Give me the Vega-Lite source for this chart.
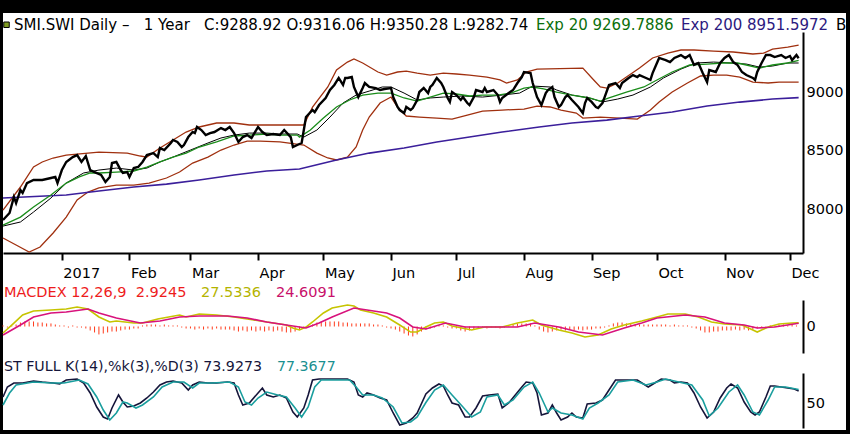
{
  "$schema": "https://vega.github.io/schema/vega-lite/v6.json",
  "width": 843,
  "height": 417,
  "autosize": {"type": "none"},
  "padding": {"left": 3, "top": 13, "right": 4, "bottom": 4},
  "background": "black",
  "config": {
    "font": "DejaVu Sans",
    "view": {"fill": "white", "stroke": null},
    "axis": {"labelFont": "DejaVu Sans", "labelFontSize": 14.5, "labelColor": "black", "domainColor": "black", "domainWidth": 2, "grid": false},
    "legend": {"labelFont": "DejaVu Sans", "labelLimit": 900, "symbolSize": 0, "symbolOpacity": 0, "symbolStrokeWidth": 0, "labelOffset": 0, "padding": 0}
  },
  "datasets": {
    "levels": [{"v": 9322}, {"v": 9188}, {"v": 9088}, {"v": 8795}],
    "close": [
      {"d":"2016-12-05","v":7906},{"d":"2016-12-08","v":7966},{"d":"2016-12-10","v":8103},{"d":"2016-12-11","v":8051},{"d":"2016-12-13","v":8162},{"d":"2016-12-14","v":8137},{"d":"2016-12-16","v":8222},{"d":"2016-12-19","v":8248},{"d":"2016-12-23","v":8248},{"d":"2016-12-27","v":8265},{"d":"2016-12-29","v":8274},{"d":"2016-12-30","v":8222},
      {"d":"2017-01-01","v":8333},{"d":"2017-01-03","v":8402},{"d":"2017-01-06","v":8444},{"d":"2017-01-08","v":8461},{"d":"2017-01-10","v":8402},{"d":"2017-01-12","v":8453},{"d":"2017-01-14","v":8333},{"d":"2017-01-16","v":8316},{"d":"2017-01-19","v":8291},{"d":"2017-01-21","v":8231},{"d":"2017-01-23","v":8274},{"d":"2017-01-24","v":8393},{"d":"2017-01-26","v":8402},{"d":"2017-01-28","v":8333},{"d":"2017-01-29","v":8308},{"d":"2017-01-31","v":8316},
      {"d":"2017-02-01","v":8274},{"d":"2017-02-03","v":8350},{"d":"2017-02-05","v":8359},{"d":"2017-02-07","v":8402},{"d":"2017-02-09","v":8461},{"d":"2017-02-12","v":8478},{"d":"2017-02-14","v":8444},{"d":"2017-02-15","v":8521},{"d":"2017-02-17","v":8504},{"d":"2017-02-20","v":8564},{"d":"2017-02-21","v":8590},{"d":"2017-02-23","v":8573},{"d":"2017-02-25","v":8530},{"d":"2017-02-26","v":8547},{"d":"2017-02-28","v":8615},
      {"d":"2017-03-02","v":8658},{"d":"2017-03-03","v":8649},{"d":"2017-03-04","v":8701},{"d":"2017-03-06","v":8675},{"d":"2017-03-08","v":8632},{"d":"2017-03-10","v":8649},{"d":"2017-03-12","v":8658},{"d":"2017-03-15","v":8692},{"d":"2017-03-17","v":8675},{"d":"2017-03-19","v":8701},{"d":"2017-03-21","v":8649},{"d":"2017-03-23","v":8573},{"d":"2017-03-25","v":8615},{"d":"2017-03-27","v":8632},{"d":"2017-03-29","v":8607},
      {"d":"2017-04-01","v":8701},{"d":"2017-04-03","v":8658},{"d":"2017-04-05","v":8632},{"d":"2017-04-08","v":8641},{"d":"2017-04-11","v":8632},{"d":"2017-04-13","v":8675},{"d":"2017-04-16","v":8615},{"d":"2017-04-17","v":8530},{"d":"2017-04-19","v":8547},{"d":"2017-04-21","v":8564},{"d":"2017-04-22","v":8675},{"d":"2017-04-23","v":8786},{"d":"2017-04-26","v":8846},{"d":"2017-04-27","v":8829},{"d":"2017-04-29","v":8889},
      {"d":"2017-05-02","v":8949},{"d":"2017-05-04","v":9017},{"d":"2017-05-06","v":9060},{"d":"2017-05-08","v":9120},{"d":"2017-05-10","v":9060},{"d":"2017-05-11","v":9120},{"d":"2017-05-12","v":9120},{"d":"2017-05-14","v":9128},{"d":"2017-05-15","v":9043},{"d":"2017-05-17","v":8957},{"d":"2017-05-19","v":9034},{"d":"2017-05-20","v":9077},{"d":"2017-05-22","v":9043},{"d":"2017-05-25","v":9034},{"d":"2017-05-27","v":9017},{"d":"2017-05-29","v":9026},
      {"d":"2017-06-01","v":9034},{"d":"2017-06-02","v":8957},{"d":"2017-06-04","v":8872},{"d":"2017-06-05","v":8846},{"d":"2017-06-07","v":8820},{"d":"2017-06-08","v":8872},{"d":"2017-06-10","v":8846},{"d":"2017-06-11","v":8863},{"d":"2017-06-13","v":8932},{"d":"2017-06-14","v":9000},{"d":"2017-06-16","v":9034},{"d":"2017-06-18","v":8991},{"d":"2017-06-19","v":9043},{"d":"2017-06-20","v":9060},{"d":"2017-06-22","v":9120},{"d":"2017-06-24","v":9077},{"d":"2017-06-25","v":9043},{"d":"2017-06-27","v":8949},{"d":"2017-06-28","v":8915},{"d":"2017-06-29","v":9000},
      {"d":"2017-07-01","v":8974},{"d":"2017-07-03","v":8932},{"d":"2017-07-04","v":8957},{"d":"2017-07-06","v":8906},{"d":"2017-07-07","v":8889},{"d":"2017-07-09","v":8957},{"d":"2017-07-10","v":9017},{"d":"2017-07-13","v":9000},{"d":"2017-07-14","v":9034},{"d":"2017-07-15","v":9000},{"d":"2017-07-18","v":9017},{"d":"2017-07-20","v":8974},{"d":"2017-07-21","v":8915},{"d":"2017-07-22","v":8949},{"d":"2017-07-25","v":8991},{"d":"2017-07-27","v":9017},{"d":"2017-07-29","v":9077},{"d":"2017-07-31","v":9128},
      {"d":"2017-08-01","v":9171},{"d":"2017-08-04","v":9162},{"d":"2017-08-05","v":9077},{"d":"2017-08-07","v":8957},{"d":"2017-08-09","v":8889},{"d":"2017-08-11","v":8991},{"d":"2017-08-12","v":9017},{"d":"2017-08-14","v":9043},{"d":"2017-08-15","v":8957},{"d":"2017-08-17","v":8872},{"d":"2017-08-18","v":8889},{"d":"2017-08-20","v":8957},{"d":"2017-08-21","v":8974},{"d":"2017-08-23","v":8932},{"d":"2017-08-26","v":8872},{"d":"2017-08-28","v":8820},{"d":"2017-08-29","v":8906},{"d":"2017-08-30","v":8949},
      {"d":"2017-09-01","v":8915},{"d":"2017-09-03","v":8872},{"d":"2017-09-04","v":8863},{"d":"2017-09-06","v":8906},{"d":"2017-09-07","v":8957},{"d":"2017-09-09","v":9060},{"d":"2017-09-12","v":9077},{"d":"2017-09-14","v":9034},{"d":"2017-09-15","v":9077},{"d":"2017-09-18","v":9120},{"d":"2017-09-20","v":9145},{"d":"2017-09-22","v":9128},{"d":"2017-09-23","v":9145},{"d":"2017-09-26","v":9120},{"d":"2017-09-28","v":9103},{"d":"2017-09-29","v":9162},
      {"d":"2017-10-01","v":9248},{"d":"2017-10-02","v":9291},{"d":"2017-10-05","v":9273},{"d":"2017-10-07","v":9256},{"d":"2017-10-09","v":9291},{"d":"2017-10-12","v":9316},{"d":"2017-10-14","v":9291},{"d":"2017-10-16","v":9316},{"d":"2017-10-18","v":9231},{"d":"2017-10-20","v":9248},{"d":"2017-10-22","v":9162},{"d":"2017-10-24","v":9085},{"d":"2017-10-25","v":9188},{"d":"2017-10-28","v":9171},{"d":"2017-10-30","v":9248},
      {"d":"2017-11-01","v":9291},{"d":"2017-11-03","v":9316},{"d":"2017-11-05","v":9256},{"d":"2017-11-07","v":9231},{"d":"2017-11-09","v":9171},{"d":"2017-11-11","v":9145},{"d":"2017-11-14","v":9120},{"d":"2017-11-15","v":9103},{"d":"2017-11-16","v":9171},{"d":"2017-11-18","v":9248},{"d":"2017-11-20","v":9316},{"d":"2017-11-22","v":9316},{"d":"2017-11-24","v":9299},{"d":"2017-11-27","v":9316},{"d":"2017-11-29","v":9291},
      {"d":"2017-12-01","v":9308},{"d":"2017-12-02","v":9273},{"d":"2017-12-04","v":9316},{"d":"2017-12-05","v":9289}
    ],
    "upper": [
      {"d":"2016-12-05","v":7991},{"d":"2016-12-13","v":8188},{"d":"2016-12-19","v":8359},{"d":"2016-12-23","v":8402},{"d":"2016-12-28","v":8436},{"d":"2017-01-03","v":8461},{"d":"2017-01-13","v":8478},{"d":"2017-01-18","v":8487},{"d":"2017-01-31","v":8478},{"d":"2017-02-06","v":8453},{"d":"2017-02-09","v":8444},{"d":"2017-02-15","v":8521},{"d":"2017-02-21","v":8590},{"d":"2017-02-27","v":8658},{"d":"2017-03-05","v":8701},{"d":"2017-03-13","v":8735},{"d":"2017-03-21","v":8735},{"d":"2017-03-28","v":8718},{"d":"2017-04-22","v":8718},{"d":"2017-04-26","v":8872},{"d":"2017-05-03","v":9043},{"d":"2017-05-07","v":9188},{"d":"2017-05-12","v":9256},{"d":"2017-05-15","v":9282},{"d":"2017-05-19","v":9248},{"d":"2017-05-26","v":9171},{"d":"2017-05-30","v":9145},{"d":"2017-06-04","v":9171},{"d":"2017-06-08","v":9179},{"d":"2017-06-13","v":9162},{"d":"2017-06-19","v":9145},{"d":"2017-06-25","v":9162},{"d":"2017-07-01","v":9154},{"d":"2017-07-07","v":9145},{"d":"2017-07-15","v":9128},{"d":"2017-07-21","v":9103},{"d":"2017-07-24","v":9077},{"d":"2017-07-29","v":9103},{"d":"2017-08-02","v":9171},{"d":"2017-08-07","v":9196},{"d":"2017-08-28","v":9205},{"d":"2017-09-02","v":9103},{"d":"2017-09-05","v":9043},{"d":"2017-09-08","v":9034},{"d":"2017-09-13","v":9077},{"d":"2017-09-17","v":9128},{"d":"2017-09-23","v":9205},{"d":"2017-09-29","v":9291},{"d":"2017-10-06","v":9333},{"d":"2017-10-12","v":9359},{"d":"2017-10-18","v":9359},{"d":"2017-10-27","v":9350},{"d":"2017-11-05","v":9342},{"d":"2017-11-14","v":9325},{"d":"2017-11-19","v":9333},{"d":"2017-11-23","v":9367},{"d":"2017-11-30","v":9384},{"d":"2017-12-05","v":9401}
    ],
    "lower": [
      {"d":"2016-12-05","v":7752},{"d":"2016-12-11","v":7692},{"d":"2016-12-17","v":7632},{"d":"2016-12-22","v":7675},{"d":"2016-12-28","v":7795},{"d":"2017-01-03","v":7931},{"d":"2017-01-08","v":8077},{"d":"2017-01-13","v":8145},{"d":"2017-01-18","v":8180},{"d":"2017-01-26","v":8205},{"d":"2017-02-03","v":8205},{"d":"2017-02-10","v":8222},{"d":"2017-02-18","v":8265},{"d":"2017-02-24","v":8316},{"d":"2017-03-02","v":8393},{"d":"2017-03-09","v":8444},{"d":"2017-03-15","v":8504},{"d":"2017-03-21","v":8547},{"d":"2017-03-27","v":8581},{"d":"2017-04-02","v":8581},{"d":"2017-04-11","v":8573},{"d":"2017-04-22","v":8547},{"d":"2017-04-28","v":8478},{"d":"2017-05-03","v":8436},{"d":"2017-05-07","v":8419},{"d":"2017-05-12","v":8444},{"d":"2017-05-16","v":8530},{"d":"2017-05-19","v":8675},{"d":"2017-05-22","v":8786},{"d":"2017-05-27","v":8906},{"d":"2017-06-01","v":8957},{"d":"2017-06-04","v":8872},{"d":"2017-06-08","v":8795},{"d":"2017-06-14","v":8786},{"d":"2017-06-22","v":8777},{"d":"2017-06-29","v":8769},{"d":"2017-07-06","v":8803},{"d":"2017-07-13","v":8837},{"d":"2017-07-22","v":8846},{"d":"2017-08-01","v":8854},{"d":"2017-08-07","v":8880},{"d":"2017-08-13","v":8872},{"d":"2017-08-18","v":8846},{"d":"2017-08-25","v":8820},{"d":"2017-08-28","v":8777},{"d":"2017-09-05","v":8786},{"d":"2017-09-14","v":8777},{"d":"2017-09-22","v":8769},{"d":"2017-09-28","v":8846},{"d":"2017-10-02","v":8914},{"d":"2017-10-08","v":9000},{"d":"2017-10-15","v":9077},{"d":"2017-10-21","v":9137},{"d":"2017-10-27","v":9145},{"d":"2017-11-02","v":9145},{"d":"2017-11-08","v":9128},{"d":"2017-11-14","v":9085},{"d":"2017-11-21","v":9077},{"d":"2017-11-26","v":9085},{"d":"2017-12-05","v":9085}
    ],
    "sma": [
      {"d":"2016-12-05","v":7854},{"d":"2016-12-13","v":7889},{"d":"2016-12-19","v":7974},{"d":"2016-12-27","v":8094},{"d":"2017-01-03","v":8222},{"d":"2017-01-11","v":8308},{"d":"2017-01-18","v":8333},{"d":"2017-01-26","v":8350},{"d":"2017-02-03","v":8333},{"d":"2017-02-09","v":8350},{"d":"2017-02-15","v":8402},{"d":"2017-02-21","v":8444},{"d":"2017-03-01","v":8504},{"d":"2017-03-09","v":8564},{"d":"2017-03-15","v":8607},{"d":"2017-03-21","v":8632},{"d":"2017-03-28","v":8649},{"d":"2017-04-05","v":8649},{"d":"2017-04-11","v":8641},{"d":"2017-04-19","v":8641},{"d":"2017-04-22","v":8615},{"d":"2017-04-28","v":8675},{"d":"2017-05-04","v":8786},{"d":"2017-05-10","v":8906},{"d":"2017-05-16","v":8974},{"d":"2017-05-22","v":9008},{"d":"2017-05-28","v":9043},{"d":"2017-06-01","v":9043},{"d":"2017-06-07","v":8991},{"d":"2017-06-13","v":8932},{"d":"2017-06-19","v":8949},{"d":"2017-06-25","v":8957},{"d":"2017-07-04","v":8966},{"d":"2017-07-13","v":8957},{"d":"2017-07-22","v":8974},{"d":"2017-07-30","v":8991},{"d":"2017-08-05","v":9051},{"d":"2017-08-13","v":9043},{"d":"2017-08-16","v":9017},{"d":"2017-08-23","v":8974},{"d":"2017-08-31","v":8949},{"d":"2017-09-06","v":8915},{"d":"2017-09-13","v":8940},{"d":"2017-09-20","v":8974},{"d":"2017-09-28","v":9043},{"d":"2017-10-04","v":9120},{"d":"2017-10-12","v":9196},{"d":"2017-10-19","v":9248},{"d":"2017-10-27","v":9256},{"d":"2017-11-04","v":9248},{"d":"2017-11-11","v":9239},{"d":"2017-11-17","v":9213},{"d":"2017-11-23","v":9222},{"d":"2017-11-30","v":9248},{"d":"2017-12-05","v":9248}
    ],
    "ema20": [
      {"d":"2016-12-05","v":7863},{"d":"2016-12-13","v":7931},{"d":"2016-12-19","v":8017},{"d":"2016-12-27","v":8120},{"d":"2017-01-03","v":8222},{"d":"2017-01-09","v":8274},{"d":"2017-01-14","v":8308},{"d":"2017-01-18","v":8308},{"d":"2017-01-26","v":8316},{"d":"2017-02-03","v":8325},{"d":"2017-02-09","v":8359},{"d":"2017-02-15","v":8402},{"d":"2017-02-21","v":8444},{"d":"2017-02-27","v":8478},{"d":"2017-03-05","v":8530},{"d":"2017-03-13","v":8573},{"d":"2017-03-21","v":8624},{"d":"2017-03-28","v":8632},{"d":"2017-04-05","v":8641},{"d":"2017-04-11","v":8632},{"d":"2017-04-19","v":8632},{"d":"2017-04-20","v":8615},{"d":"2017-04-25","v":8675},{"d":"2017-05-01","v":8777},{"d":"2017-05-07","v":8872},{"d":"2017-05-13","v":8932},{"d":"2017-05-19","v":8974},{"d":"2017-05-26","v":8991},{"d":"2017-06-01","v":8991},{"d":"2017-06-07","v":8949},{"d":"2017-06-13","v":8923},{"d":"2017-06-19","v":8957},{"d":"2017-06-25","v":8991},{"d":"2017-07-01","v":8983},{"d":"2017-07-07","v":8966},{"d":"2017-07-13","v":8974},{"d":"2017-07-20","v":8974},{"d":"2017-07-26","v":8991},{"d":"2017-08-01","v":9034},{"d":"2017-08-05","v":9043},{"d":"2017-08-10","v":9026},{"d":"2017-08-16","v":9000},{"d":"2017-08-23","v":8974},{"d":"2017-08-31","v":8949},{"d":"2017-09-05","v":8923},{"d":"2017-09-09","v":8949},{"d":"2017-09-17","v":9000},{"d":"2017-09-25","v":9043},{"d":"2017-10-01","v":9103},{"d":"2017-10-08","v":9171},{"d":"2017-10-16","v":9231},{"d":"2017-10-24","v":9239},{"d":"2017-10-31","v":9248},{"d":"2017-11-07","v":9248},{"d":"2017-11-11","v":9231},{"d":"2017-11-17","v":9205},{"d":"2017-11-23","v":9231},{"d":"2017-11-30","v":9248},{"d":"2017-12-05","v":9270}
    ],
    "ema200": [
      {"d":"2016-12-05","v":8094},{"d":"2017-01-03","v":8120},{"d":"2017-01-18","v":8154},{"d":"2017-02-03","v":8188},{"d":"2017-02-18","v":8213},{"d":"2017-03-05","v":8248},{"d":"2017-03-21","v":8291},{"d":"2017-04-05","v":8325},{"d":"2017-04-20","v":8342},{"d":"2017-05-07","v":8419},{"d":"2017-05-22","v":8478},{"d":"2017-06-07","v":8521},{"d":"2017-06-22","v":8573},{"d":"2017-07-07","v":8615},{"d":"2017-07-22","v":8658},{"d":"2017-08-08","v":8701},{"d":"2017-08-23","v":8735},{"d":"2017-09-08","v":8760},{"d":"2017-09-23","v":8795},{"d":"2017-10-08","v":8829},{"d":"2017-10-24","v":8880},{"d":"2017-11-08","v":8914},{"d":"2017-11-23","v":8940},{"d":"2017-12-05","v":8952}
    ],
    "macd": [
      {"d":"2016-12-05","v":-49},{"d":"2016-12-10","v":26},{"d":"2016-12-14","v":87},{"d":"2016-12-19","v":117},{"d":"2016-12-27","v":125},{"d":"2017-01-03","v":132},{"d":"2017-01-08","v":147},{"d":"2017-01-13","v":132},{"d":"2017-01-18","v":72},{"d":"2017-01-23","v":34},{"d":"2017-01-26","v":42},{"d":"2017-02-03","v":26},{"d":"2017-02-07","v":26},{"d":"2017-02-14","v":57},{"d":"2017-02-24","v":87},{"d":"2017-02-27","v":72},{"d":"2017-03-05","v":94},{"d":"2017-03-13","v":87},{"d":"2017-03-21","v":72},{"d":"2017-03-30","v":49},{"d":"2017-04-08","v":26},{"d":"2017-04-14","v":11},{"d":"2017-04-17","v":-11},{"d":"2017-04-20","v":-26},{"d":"2017-04-23","v":-4},{"d":"2017-04-26","v":34},{"d":"2017-05-01","v":102},{"d":"2017-05-05","v":140},{"d":"2017-05-12","v":162},{"d":"2017-05-15","v":155},{"d":"2017-05-18","v":125},{"d":"2017-05-24","v":102},{"d":"2017-05-30","v":72},{"d":"2017-06-05","v":11},{"d":"2017-06-10","v":-42},{"d":"2017-06-13","v":-42},{"d":"2017-06-17","v":-4},{"d":"2017-06-21","v":26},{"d":"2017-06-25","v":34},{"d":"2017-06-29","v":4},{"d":"2017-07-08","v":-26},{"d":"2017-07-14","v":-4},{"d":"2017-07-22","v":-4},{"d":"2017-07-29","v":26},{"d":"2017-08-05","v":49},{"d":"2017-08-09","v":11},{"d":"2017-08-17","v":-26},{"d":"2017-08-23","v":-49},{"d":"2017-08-29","v":-79},{"d":"2017-09-04","v":-64},{"d":"2017-09-10","v":-19},{"d":"2017-09-16","v":11},{"d":"2017-09-24","v":42},{"d":"2017-10-01","v":72},{"d":"2017-10-06","v":94},{"d":"2017-10-14","v":94},{"d":"2017-10-20","v":72},{"d":"2017-10-26","v":34},{"d":"2017-11-01","v":19},{"d":"2017-11-09","v":11},{"d":"2017-11-14","v":-26},{"d":"2017-11-16","v":-42},{"d":"2017-11-21","v":-4},{"d":"2017-11-26","v":19},{"d":"2017-12-02","v":26},{"d":"2017-12-05","v":27.5}
    ],
    "signal": [
      {"d":"2016-12-05","v":-64},{"d":"2016-12-13","v":11},{"d":"2016-12-19","v":72},{"d":"2016-12-27","v":102},{"d":"2017-01-03","v":109},{"d":"2017-01-13","v":132},{"d":"2017-01-18","v":102},{"d":"2017-01-26","v":64},{"d":"2017-02-06","v":26},{"d":"2017-02-15","v":42},{"d":"2017-02-24","v":72},{"d":"2017-03-05","v":79},{"d":"2017-03-18","v":79},{"d":"2017-03-27","v":64},{"d":"2017-04-05","v":34},{"d":"2017-04-14","v":11},{"d":"2017-04-23","v":-11},{"d":"2017-04-29","v":26},{"d":"2017-05-05","v":72},{"d":"2017-05-15","v":140},{"d":"2017-05-21","v":125},{"d":"2017-05-30","v":102},{"d":"2017-06-05","v":64},{"d":"2017-06-11","v":-4},{"d":"2017-06-17","v":-19},{"d":"2017-06-26","v":26},{"d":"2017-07-05","v":-4},{"d":"2017-07-17","v":-4},{"d":"2017-07-29","v":-4},{"d":"2017-08-06","v":26},{"d":"2017-08-17","v":-4},{"d":"2017-08-26","v":-42},{"d":"2017-09-06","v":-64},{"d":"2017-09-16","v":-11},{"d":"2017-09-24","v":26},{"d":"2017-10-01","v":64},{"d":"2017-10-14","v":87},{"d":"2017-10-23","v":72},{"d":"2017-11-01","v":26},{"d":"2017-11-10","v":11},{"d":"2017-11-16","v":-11},{"d":"2017-11-24","v":-4},{"d":"2017-12-05","v":24.6}
    ],
    "hist": [
      {"d":"2016-12-05","v":8},{"d":"2016-12-07","v":-8},{"d":"2016-12-09","v":8},{"d":"2016-12-11","v":15},{"d":"2016-12-13","v":30},{"d":"2016-12-15","v":38},{"d":"2016-12-17","v":38},{"d":"2016-12-19","v":38},{"d":"2016-12-21","v":30},{"d":"2016-12-23","v":30},{"d":"2016-12-25","v":23},{"d":"2016-12-27","v":23},{"d":"2016-12-29","v":15},{"d":"2016-12-31","v":8},
      {"d":"2017-01-02","v":8},{"d":"2017-01-04","v":-8},{"d":"2017-01-06","v":8},{"d":"2017-01-08","v":-8},{"d":"2017-01-10","v":-8},{"d":"2017-01-12","v":-15},{"d":"2017-01-14","v":-30},{"d":"2017-01-16","v":-45},{"d":"2017-01-18","v":-60},{"d":"2017-01-20","v":-53},{"d":"2017-01-22","v":-45},{"d":"2017-01-24","v":-38},{"d":"2017-01-26","v":-38},{"d":"2017-01-28","v":-30},{"d":"2017-01-30","v":-23},
      {"d":"2017-02-01","v":-23},{"d":"2017-02-03","v":-15},{"d":"2017-02-05","v":-15},{"d":"2017-02-07","v":8},{"d":"2017-02-09","v":15},{"d":"2017-02-11","v":15},{"d":"2017-02-13","v":15},{"d":"2017-02-15","v":8},{"d":"2017-02-17","v":15},{"d":"2017-02-19","v":8},{"d":"2017-02-21","v":8},{"d":"2017-02-23","v":8},{"d":"2017-02-25","v":-8},{"d":"2017-02-27","v":-15},
      {"d":"2017-03-01","v":-15},{"d":"2017-03-03","v":-23},{"d":"2017-03-05","v":-15},{"d":"2017-03-07","v":-23},{"d":"2017-03-09","v":-15},{"d":"2017-03-11","v":-23},{"d":"2017-03-13","v":-15},{"d":"2017-03-15","v":-23},{"d":"2017-03-17","v":-23},{"d":"2017-03-19","v":-23},{"d":"2017-03-21","v":-30},{"d":"2017-03-23","v":-38},{"d":"2017-03-25","v":-30},{"d":"2017-03-27","v":-38},{"d":"2017-03-29","v":-30},{"d":"2017-03-31","v":-38},
      {"d":"2017-04-02","v":-30},{"d":"2017-04-04","v":-38},{"d":"2017-04-06","v":-30},{"d":"2017-04-08","v":-38},{"d":"2017-04-10","v":-30},{"d":"2017-04-12","v":-38},{"d":"2017-04-14","v":-45},{"d":"2017-04-16","v":-45},{"d":"2017-04-18","v":-38},{"d":"2017-04-20","v":-23},{"d":"2017-04-22","v":-8},{"d":"2017-04-24","v":8},{"d":"2017-04-26","v":15},{"d":"2017-04-28","v":30},{"d":"2017-04-30","v":38},
      {"d":"2017-05-02","v":38},{"d":"2017-05-04","v":38},{"d":"2017-05-06","v":38},{"d":"2017-05-08","v":38},{"d":"2017-05-10","v":30},{"d":"2017-05-12","v":30},{"d":"2017-05-14","v":23},{"d":"2017-05-16","v":23},{"d":"2017-05-18","v":23},{"d":"2017-05-20","v":23},{"d":"2017-05-22","v":23},{"d":"2017-05-24","v":15},{"d":"2017-05-26","v":15},{"d":"2017-05-28","v":8},{"d":"2017-05-30","v":-8},
      {"d":"2017-06-01","v":-15},{"d":"2017-06-03","v":-23},{"d":"2017-06-05","v":-38},{"d":"2017-06-07","v":-53},{"d":"2017-06-09","v":-68},{"d":"2017-06-11","v":-75},{"d":"2017-06-13","v":-60},{"d":"2017-06-15","v":-38},{"d":"2017-06-17","v":-23},{"d":"2017-06-19","v":-15},{"d":"2017-06-21","v":-8},{"d":"2017-06-23","v":8},{"d":"2017-06-25","v":8},{"d":"2017-06-27","v":-8},{"d":"2017-06-29","v":-15},
      {"d":"2017-07-01","v":-15},{"d":"2017-07-03","v":-30},{"d":"2017-07-05","v":-38},{"d":"2017-07-07","v":-30},{"d":"2017-07-09","v":-23},{"d":"2017-07-11","v":-15},{"d":"2017-07-13","v":-8},{"d":"2017-07-15","v":-15},{"d":"2017-07-17","v":-8},{"d":"2017-07-19","v":-8},{"d":"2017-07-21","v":-15},{"d":"2017-07-23","v":-8},{"d":"2017-07-25","v":8},{"d":"2017-07-27","v":15},{"d":"2017-07-29","v":23},{"d":"2017-07-31","v":23},
      {"d":"2017-08-02","v":23},{"d":"2017-08-04","v":23},{"d":"2017-08-06","v":8},{"d":"2017-08-08","v":-23},{"d":"2017-08-10","v":-38},{"d":"2017-08-12","v":-45},{"d":"2017-08-14","v":-38},{"d":"2017-08-16","v":-30},{"d":"2017-08-18","v":-23},{"d":"2017-08-20","v":-30},{"d":"2017-08-22","v":-23},{"d":"2017-08-24","v":-30},{"d":"2017-08-26","v":-23},{"d":"2017-08-28","v":-30},{"d":"2017-08-30","v":-23},
      {"d":"2017-09-01","v":-23},{"d":"2017-09-03","v":-15},{"d":"2017-09-05","v":-15},{"d":"2017-09-07","v":-8},{"d":"2017-09-09","v":8},{"d":"2017-09-11","v":23},{"d":"2017-09-13","v":30},{"d":"2017-09-15","v":30},{"d":"2017-09-17","v":23},{"d":"2017-09-19","v":23},{"d":"2017-09-21","v":15},{"d":"2017-09-23","v":15},{"d":"2017-09-25","v":15},{"d":"2017-09-27","v":15},{"d":"2017-09-29","v":15},
      {"d":"2017-10-01","v":15},{"d":"2017-10-03","v":15},{"d":"2017-10-05","v":15},{"d":"2017-10-07","v":8},{"d":"2017-10-09","v":15},{"d":"2017-10-11","v":8},{"d":"2017-10-13","v":8},{"d":"2017-10-15","v":8},{"d":"2017-10-17","v":-8},{"d":"2017-10-19","v":-15},{"d":"2017-10-21","v":-30},{"d":"2017-10-23","v":-45},{"d":"2017-10-25","v":-45},{"d":"2017-10-27","v":-38},{"d":"2017-10-29","v":-38},{"d":"2017-10-31","v":-30},
      {"d":"2017-11-02","v":-30},{"d":"2017-11-04","v":-30},{"d":"2017-11-06","v":-23},{"d":"2017-11-08","v":-30},{"d":"2017-11-10","v":-23},{"d":"2017-11-12","v":-30},{"d":"2017-11-14","v":-23},{"d":"2017-11-16","v":-15},{"d":"2017-11-18","v":-8},{"d":"2017-11-20","v":-8},{"d":"2017-11-22","v":8},{"d":"2017-11-24","v":8},{"d":"2017-11-26","v":15},{"d":"2017-11-28","v":15},{"d":"2017-11-30","v":8},
      {"d":"2017-12-02","v":15},{"d":"2017-12-04","v":8}
    ],
    "stk": [
      {"d":"2016-12-05","v":62},{"d":"2016-12-07","v":82},{"d":"2016-12-10","v":90},{"d":"2016-12-14","v":90},{"d":"2016-12-19","v":94},{"d":"2016-12-23","v":92},{"d":"2016-12-28","v":90},{"d":"2016-12-31","v":88},{"d":"2017-01-03","v":96},{"d":"2017-01-08","v":98},{"d":"2017-01-11","v":90},{"d":"2017-01-14","v":70},{"d":"2017-01-17","v":42},{"d":"2017-01-20","v":22},{"d":"2017-01-22","v":18},{"d":"2017-01-24","v":40},{"d":"2017-01-27","v":66},{"d":"2017-01-29","v":52},{"d":"2017-01-31","v":42},{"d":"2017-02-03","v":44},{"d":"2017-02-06","v":50},{"d":"2017-02-09","v":60},{"d":"2017-02-12","v":72},{"d":"2017-02-15","v":86},{"d":"2017-02-18","v":92},{"d":"2017-02-21","v":94},{"d":"2017-02-25","v":90},{"d":"2017-02-28","v":76},{"d":"2017-03-02","v":86},{"d":"2017-03-05","v":92},{"d":"2017-03-09","v":90},{"d":"2017-03-13","v":90},{"d":"2017-03-18","v":92},{"d":"2017-03-21","v":90},{"d":"2017-03-23","v":66},{"d":"2017-03-25","v":46},{"d":"2017-03-28","v":50},{"d":"2017-04-01","v":70},{"d":"2017-04-03","v":80},{"d":"2017-04-05","v":66},{"d":"2017-04-08","v":62},{"d":"2017-04-11","v":66},{"d":"2017-04-14","v":60},{"d":"2017-04-17","v":32},{"d":"2017-04-19","v":22},{"d":"2017-04-22","v":40},{"d":"2017-04-24","v":66},{"d":"2017-04-26","v":96},{"d":"2017-04-29","v":98},{"d":"2017-05-05","v":98},{"d":"2017-05-12","v":98},{"d":"2017-05-15","v":92},{"d":"2017-05-17","v":66},{"d":"2017-05-19","v":62},{"d":"2017-05-21","v":70},{"d":"2017-05-24","v":66},{"d":"2017-05-27","v":60},{"d":"2017-05-30","v":56},{"d":"2017-06-02","v":30},{"d":"2017-06-05","v":6},{"d":"2017-06-08","v":10},{"d":"2017-06-11","v":20},{"d":"2017-06-13","v":30},{"d":"2017-06-17","v":68},{"d":"2017-06-20","v":80},{"d":"2017-06-23","v":88},{"d":"2017-06-25","v":84},{"d":"2017-06-27","v":66},{"d":"2017-06-29","v":50},{"d":"2017-07-02","v":46},{"d":"2017-07-05","v":22},{"d":"2017-07-07","v":22},{"d":"2017-07-10","v":40},{"d":"2017-07-13","v":64},{"d":"2017-07-16","v":66},{"d":"2017-07-20","v":68},{"d":"2017-07-22","v":40},{"d":"2017-07-25","v":50},{"d":"2017-07-28","v":66},{"d":"2017-07-31","v":82},{"d":"2017-08-02","v":92},{"d":"2017-08-05","v":90},{"d":"2017-08-07","v":70},{"d":"2017-08-09","v":26},{"d":"2017-08-12","v":30},{"d":"2017-08-14","v":46},{"d":"2017-08-16","v":30},{"d":"2017-08-18","v":16},{"d":"2017-08-21","v":22},{"d":"2017-08-23","v":30},{"d":"2017-08-25","v":22},{"d":"2017-08-28","v":20},{"d":"2017-08-30","v":48},{"d":"2017-09-03","v":50},{"d":"2017-09-06","v":56},{"d":"2017-09-09","v":76},{"d":"2017-09-12","v":96},{"d":"2017-09-16","v":96},{"d":"2017-09-22","v":96},{"d":"2017-09-27","v":82},{"d":"2017-09-30","v":90},{"d":"2017-10-03","v":98},{"d":"2017-10-07","v":96},{"d":"2017-10-09","v":90},{"d":"2017-10-12","v":92},{"d":"2017-10-15","v":90},{"d":"2017-10-18","v":70},{"d":"2017-10-21","v":42},{"d":"2017-10-24","v":20},{"d":"2017-10-27","v":32},{"d":"2017-10-30","v":60},{"d":"2017-11-02","v":80},{"d":"2017-11-04","v":88},{"d":"2017-11-07","v":80},{"d":"2017-11-10","v":52},{"d":"2017-11-13","v":32},{"d":"2017-11-15","v":26},{"d":"2017-11-17","v":32},{"d":"2017-11-20","v":62},{"d":"2017-11-22","v":84},{"d":"2017-11-24","v":84},{"d":"2017-11-27","v":82},{"d":"2017-11-30","v":80},{"d":"2017-12-03","v":78},{"d":"2017-12-05","v":74}
    ],
    "std": [
      {"d":"2016-12-05","v":46},{"d":"2016-12-08","v":70},{"d":"2016-12-11","v":86},{"d":"2016-12-19","v":92},{"d":"2016-12-27","v":90},{"d":"2017-01-02","v":90},{"d":"2017-01-09","v":96},{"d":"2017-01-13","v":88},{"d":"2017-01-17","v":62},{"d":"2017-01-20","v":36},{"d":"2017-01-23","v":16},{"d":"2017-01-26","v":30},{"d":"2017-01-29","v":52},{"d":"2017-01-31","v":50},{"d":"2017-02-04","v":40},{"d":"2017-02-07","v":46},{"d":"2017-02-12","v":62},{"d":"2017-02-16","v":82},{"d":"2017-02-21","v":92},{"d":"2017-02-26","v":92},{"d":"2017-03-02","v":80},{"d":"2017-03-05","v":90},{"d":"2017-03-11","v":90},{"d":"2017-03-19","v":92},{"d":"2017-03-23","v":82},{"d":"2017-03-26","v":52},{"d":"2017-03-29","v":46},{"d":"2017-04-01","v":60},{"d":"2017-04-05","v":72},{"d":"2017-04-10","v":66},{"d":"2017-04-14","v":62},{"d":"2017-04-18","v":40},{"d":"2017-04-21","v":22},{"d":"2017-04-24","v":42},{"d":"2017-04-27","v":82},{"d":"2017-04-30","v":96},{"d":"2017-05-13","v":96},{"d":"2017-05-16","v":82},{"d":"2017-05-19","v":66},{"d":"2017-05-24","v":66},{"d":"2017-05-28","v":60},{"d":"2017-06-02","v":42},{"d":"2017-06-06","v":10},{"d":"2017-06-10","v":12},{"d":"2017-06-13","v":22},{"d":"2017-06-17","v":51},{"d":"2017-06-21","v":76},{"d":"2017-06-25","v":86},{"d":"2017-06-29","v":66},{"d":"2017-07-04","v":42},{"d":"2017-07-08","v":22},{"d":"2017-07-12","v":32},{"d":"2017-07-15","v":62},{"d":"2017-07-20","v":66},{"d":"2017-07-23","v":46},{"d":"2017-07-27","v":56},{"d":"2017-08-01","v":82},{"d":"2017-08-05","v":92},{"d":"2017-08-08","v":70},{"d":"2017-08-12","v":32},{"d":"2017-08-14","v":40},{"d":"2017-08-18","v":30},{"d":"2017-08-23","v":26},{"d":"2017-08-28","v":18},{"d":"2017-08-31","v":40},{"d":"2017-09-04","v":50},{"d":"2017-09-09","v":66},{"d":"2017-09-13","v":92},{"d":"2017-09-20","v":96},{"d":"2017-09-26","v":86},{"d":"2017-10-01","v":92},{"d":"2017-10-05","v":98},{"d":"2017-10-11","v":92},{"d":"2017-10-17","v":86},{"d":"2017-10-22","v":56},{"d":"2017-10-25","v":24},{"d":"2017-10-29","v":40},{"d":"2017-11-03","v":72},{"d":"2017-11-07","v":86},{"d":"2017-11-10","v":66},{"d":"2017-11-14","v":32},{"d":"2017-11-17","v":26},{"d":"2017-11-21","v":56},{"d":"2017-11-24","v":82},{"d":"2017-11-29","v":82},{"d":"2017-12-05","v":77}
    ]
  },
  "encoding": {
    "x": {
      "field": "d",
      "type": "temporal",
      "scale": {"domain": [{"year": 2016, "month": 12, "date": 5}, {"year": 2017, "month": 12, "date": 7}], "range": [0, 800]},
      "axis": {
        "title": null,
        "orient": "bottom",
        "offset": -177,
        "tickCount": {"interval": "month", "step": 1},
        "tickSize": 7,
        "tickWidth": 2,
        "tickColor": "black",
        "labelAlign": "left",
        "labelFlush": false,
        "labelOverlap": false,
        "labelBound": false,
        "labelPadding": 6,
        "labelOffset": 1,
        "labelExpr": "month(datum.value) == 0 ? timeFormat(datum.value, '%Y') : timeFormat(datum.value, '%b')"
      }
    }
  },
  "layer": [
    {
      "encoding": {
        "y": {
          "field": "v",
          "type": "quantitative",
          "scale": {"domain": [7624, 9513], "range": [240, 19]},
          "axis": {"title": null, "orient": "right", "offset": -43, "values": [8000, 8500, 9000], "ticks": false, "tickSize": 0, "labelPadding": 3, "format": "d"}
        }
      },
      "layer": [
        {
          "data": {"name": "levels"},
          "mark": {"type": "rule", "color": "black", "strokeWidth": 1.3},
          "encoding": {
            "x": {"datum": {"year": 2016, "month": 12, "date": 5}, "type": "temporal"},
            "x2": {"datum": {"year": 2017, "month": 12, "date": 7}}
          }
        },
        {
          "data": {"name": "upper"},
          "mark": {"type": "line", "strokeWidth": 1.3},
          "encoding": {
            "color": {
              "datum": "BB",
              "scale": {"domain": ["C", "E20", "E200", "BB"], "range": ["#000000", "#1a8c1a", "#3b1f9b", "#a0300f"]},
              "legend": {
                "title": null,
                "orient": "none",
                "legendX": 4,
                "legendY": 4,
                "direction": "horizontal",
                "columns": 10,
                "columnPadding": -10,
                "symbolType": "square",
                "symbolSize": 30,
                "symbolOffset": -8,
                "symbolFillColor": "#7f9b22",
                "symbolStrokeColor": "#2e3a10",
                "symbolStrokeWidth": 1,
                "symbolOpacity": {"expr": "datum.value == 'C' ? 1 : 0"},
                "labelFontSize": 15,
                "labelExpr": "datum.value == 'C' ? 'SMI.SWI Daily – \u00a0\u00a01 Year \u00a0\u00a0C:9288.92 O:9316.06 H:9350.28 L:9282.74' : datum.value == 'E20' ? 'Exp 20 9269.7886' : datum.value == 'E200' ? 'Exp 200 8951.5972' : 'Bollinger Bands 20,2'",
                "labelColor": {"expr": "datum.value == 'E20' ? '#0c6f0c' : datum.value == 'E200' ? '#2c1a80' : '#000000'"}
              }
            }
          }
        },
        {
          "data": {"name": "lower"},
          "mark": {"type": "line", "strokeWidth": 1.3},
          "encoding": {"color": {"datum": "BB"}}
        },
        {
          "data": {"name": "sma"},
          "mark": {"type": "line", "color": "black", "strokeWidth": 1},
          "encoding": {}
        },
        {
          "data": {"name": "ema200"},
          "mark": {"type": "line", "strokeWidth": 1.6},
          "encoding": {"color": {"datum": "E200"}}
        },
        {
          "data": {"name": "ema20"},
          "mark": {"type": "line", "strokeWidth": 1.3},
          "encoding": {"color": {"datum": "E20"}}
        },
        {
          "data": {"name": "close"},
          "mark": {"type": "line", "strokeWidth": 2.4},
          "encoding": {"color": {"datum": "C"}}
        }
      ]
    },
    {
      "encoding": {
        "y": {
          "field": "v",
          "type": "quantitative",
          "scale": {"domain": [-200, 200], "range": [340, 287]},
          "axis": {"title": null, "orient": "right", "offset": -43, "values": [0], "ticks": false, "tickSize": 0, "labelPadding": 3}
        }
      },
      "layer": [
        {
          "data": {"name": "hist"},
          "mark": {"type": "rule", "strokeWidth": 1, "color": "#ff3a1a"},
          "encoding": {"y2": {"datum": 0}}
        },
        {
          "data": {"values": [{}]},
          "mark": {"type": "rule", "color": "black", "strokeWidth": 2},
          "encoding": {
            "x": {"datum": {"year": 2016, "month": 12, "date": 5}, "type": "temporal"},
            "x2": {"datum": {"year": 2017, "month": 12, "date": 7}},
            "y": {"datum": 0}
          }
        },
        {
          "data": {"values": [{}]},
          "mark": {"type": "rule", "color": "black", "strokeWidth": 2},
          "encoding": {
            "x": {"datum": {"year": 2016, "month": 12, "date": 5}, "type": "temporal"},
            "x2": {"datum": {"year": 2017, "month": 12, "date": 7}},
            "y": {"datum": -200}
          }
        },
        {
          "data": {"name": "macd"},
          "mark": {"type": "line", "strokeWidth": 1.6},
          "encoding": {
            "color": {
              "datum": "M",
              "scale": {"domain": ["H", "M", "S"], "range": ["#ff3a1a", "#c6c400", "#d8127c"]},
              "legend": {
                "title": null,
                "orient": "none",
                "legendX": -13.5,
                "legendY": 273,
                "direction": "horizontal",
                "columns": 10,
                "columnPadding": -9.5,
                "labelFontSize": 14.5,
                "labelExpr": "datum.value == 'H' ? 'MACDEX 12,26,9 \u00a02.9245' : datum.value == 'M' ? '27.5336' : '24.6091'",
                "labelColor": {"expr": "datum.value == 'H' ? '#ee1c1c' : datum.value == 'M' ? '#b4b400' : '#c8106a'"}
              }
            }
          }
        },
        {
          "data": {"name": "signal"},
          "mark": {"type": "line", "strokeWidth": 1.6},
          "encoding": {"color": {"datum": "S"}}
        }
      ]
    },
    {
      "encoding": {
        "y": {
          "field": "v",
          "type": "quantitative",
          "scale": {"domain": [0, 110], "range": [415, 360]},
          "axis": {"title": null, "orient": "right", "offset": -43, "values": [50], "ticks": false, "tickSize": 0, "labelPadding": 3}
        }
      },
      "layer": [
        {
          "data": {"values": [{}]},
          "mark": {"type": "rule", "color": "black", "strokeWidth": 2},
          "encoding": {
            "x": {"datum": {"year": 2016, "month": 12, "date": 5}, "type": "temporal"},
            "x2": {"datum": {"year": 2017, "month": 12, "date": 7}},
            "y": {"datum": 0}
          }
        },
        {
          "data": {"name": "stk"},
          "mark": {"type": "line", "strokeWidth": 1.6},
          "encoding": {
            "color": {
              "datum": "K",
              "scale": {"domain": ["K", "D"], "range": ["#15153a", "#1a9e9e"]},
              "legend": {
                "title": null,
                "orient": "none",
                "legendX": -13.2,
                "legendY": 347,
                "direction": "horizontal",
                "columns": 10,
                "columnPadding": -9.2,
                "labelFontSize": 14.2,
                "labelExpr": "datum.value == 'K' ? 'ST FULL K(14),%k(3),%D(3) 73.9273' : '77.3677'",
                "labelColor": {"expr": "datum.value == 'K' ? '#15153a' : '#1a9090'"}
              }
            }
          }
        },
        {
          "data": {"name": "std"},
          "mark": {"type": "line", "strokeWidth": 1.6},
          "encoding": {"color": {"datum": "D"}}
        }
      ]
    }
  ],
  "resolve": {
    "scale": {"y": "independent", "color": "independent"},
    "axis": {"y": "independent"},
    "legend": {"color": "independent"}
  }
}
